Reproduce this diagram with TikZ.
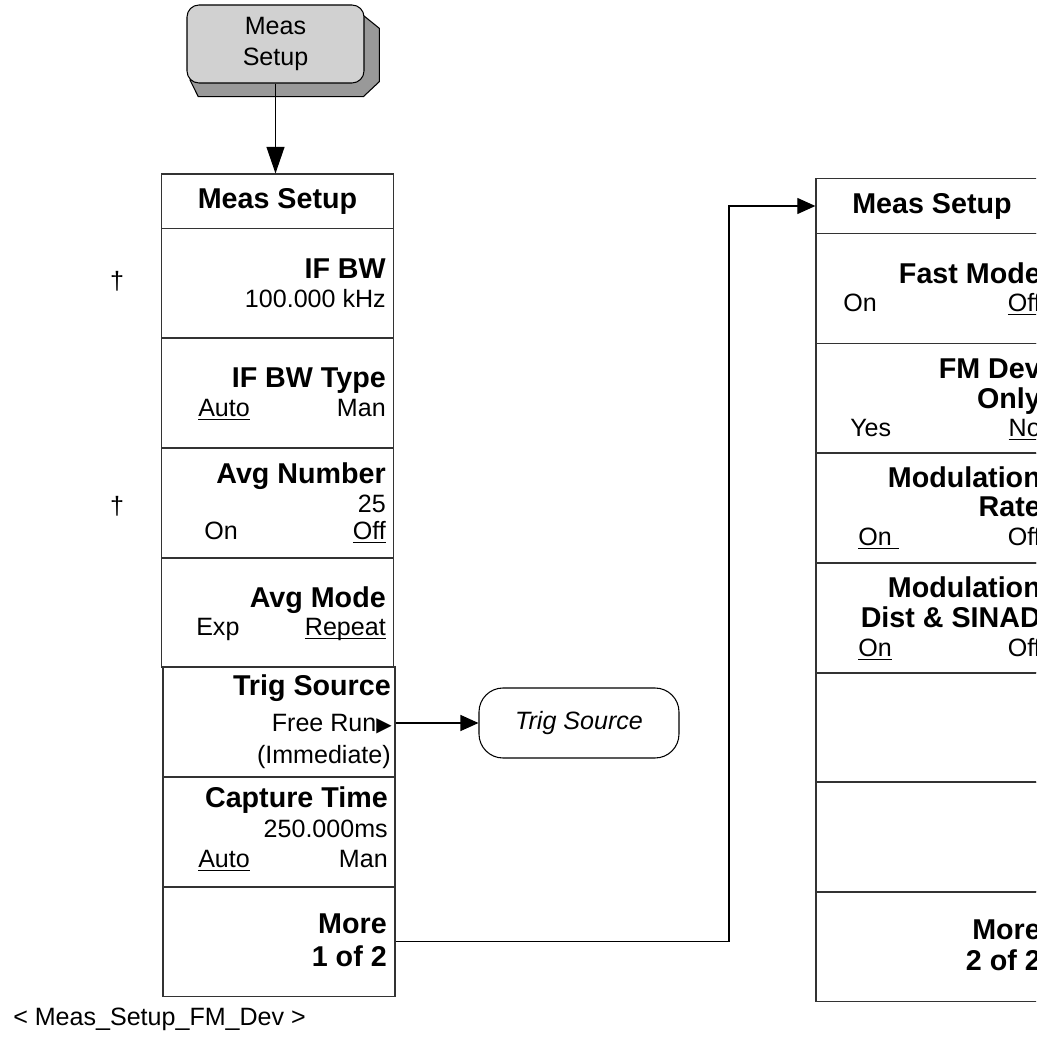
\documentclass[tikz,border=0pt]{standalone}
\usepackage{fontspec}
\setmainfont{Liberation Sans}
\newfontfamily\symfont{DejaVu Sans}
\usetikzlibrary{arrows.meta}

\newcommand{\ulopt}[1]{\setbox0=\hbox{#1}\rlap{\rule[-3pt]{\wd0}{1.1pt}}\box0}

\tikzset{
  menurow/.style={draw=black!80, line width=1pt, minimum width=174pt, minimum height=82.5pt, inner sep=0pt},
  menuhead/.style={menurow, minimum height=41pt, font=\fontsize{21.5}{24}\selectfont\bfseries},
  keyname/.style={inner sep=0pt, font=\fontsize{21.5}{24}\selectfont\bfseries},
  keyval/.style={inner sep=0pt, font=\fontsize{18.8}{22}\selectfont},
  hardkey/.style={draw, line width=0.8pt, fill=black!18, rounded corners=9pt, minimum width=132.75pt, minimum height=58.5pt, align=center, inner sep=0pt, font=\fontsize{18.8}{23.25}\selectfont},
  menulink/.style={draw, line width=0.9pt, -{Triangle[length=13.5pt,width=12pt]}},
}

\begin{document}
\begin{tikzpicture}[x=0.75pt, y=-0.75pt]
\useasboundingbox (0,0) rectangle (1036,1041);
\clip (0,0) rectangle (1036,1041);

% front panel key
\filldraw[fill=black!40, line width=0.8pt] (360.7,13.3) -- (379.3,28.3) -- (379.3,81.7) -- (363.3,96.7) -- (198.3,96.7) -- (190,80) -- cycle;
\node[hardkey] (key) at (275.5,44) {Meas\\Setup};

% menu page 1
\node[menuhead] (lhead) at (277.5,201.5) {Meas Setup};
\node[menurow] (ifbw) at (277.5,283.5) {};
\node[menurow] (ifbwtype) at (277.5,393) {};
\node[menurow] (avgnum) at (277.5,503) {};
\node[menurow] (avgmode) at (277.5,612.5) {};
\node[menurow] (trig) at (279,722) {};
\node[menurow] (capt) at (279,832) {};
\node[menurow] (more1) at (279,941.5) {};

\node[keyname, anchor=base east] at (386,278) {IF BW};
\node[keyval, anchor=base east] at (386,307) {100.000 kHz};
\node[keyname, anchor=base east] at (386,387) {IF BW Type};
\node[keyval, anchor=base west] at (198,416) {\ulopt{Auto}};
\node[keyval, anchor=base east] at (386,416) {Man};
\node[keyname, anchor=base east] at (386,483) {Avg Number};
\node[keyval, anchor=base east] at (386,512) {25};
\node[keyval, anchor=base west] at (204,539) {On};
\node[keyval, anchor=base east] at (386,539) {\ulopt{Off}};
\node[keyname, anchor=base east] at (386,607) {Avg Mode};
\node[keyval, anchor=base west] at (196,635) {Exp};
\node[keyval, anchor=base east] at (386,635) {\ulopt{Repeat}};
\node[keyname, anchor=base east] at (391,695) {Trig Source};
\node[keyval, anchor=base east] at (392,731) {Free Run{\symfont\fontsize{15}{15}\selectfont ▶}};
\node[keyval, anchor=base east] at (391,763) {(Immediate)};
\node[keyname, anchor=base east] at (388,807) {Capture Time};
\node[keyval, anchor=base east] at (388,837) {250.000ms};
\node[keyval, anchor=base west] at (198,867) {\ulopt{Auto}};
\node[keyval, anchor=base east] at (388,867) {Man};
\node[keyname, anchor=base east] at (387,933) {More};
\node[keyname, anchor=base east] at (387,966) {1 of 2};

\node[keyval, anchor=base] at (117,289) {†};
\node[keyval, anchor=base] at (117,514) {†};

% trigger source menu
\node[keyval, draw, line width=0.8pt, rounded corners=18pt, minimum width=150pt, minimum height=52.5pt, font=\fontsize{18.8}{22}\selectfont\itshape] (trigbox) at (579,723) {Trig Source};

% menu page 2
\node[menuhead] (rhead) at (932,206) {Meas Setup};
\node[menurow] (fast) at (932,288.5) {};
\node[menurow] (fmdev) at (932,398.5) {};
\node[menurow] (modrate) at (932,508) {};
\node[menurow] (moddist) at (932,618) {};
\node[menurow] (blank1) at (932,727.5) {};
\node[menurow] (blank2) at (932,837) {};
\node[menurow] (more2) at (932,946.5) {};

\node[keyname, anchor=base east] at (1041,283) {Fast Mode};
\node[keyval, anchor=base west] at (843,311) {On};
\node[keyval, anchor=base east] at (1041,311) {\ulopt{Off}};
\node[keyname, anchor=base east] at (1041,378) {FM Dev};
\node[keyname, anchor=base east] at (1041,408) {Only};
\node[keyval, anchor=base west] at (850,436) {Yes};
\node[keyval, anchor=base east] at (1041,436) {\ulopt{No}};
\node[keyname, anchor=base east] at (1041,487) {Modulation};
\node[keyname, anchor=base east] at (1041,516) {Rate};
\node[keyval, anchor=base west] at (858,545) {\ulopt{On\ }};
\node[keyval, anchor=base east] at (1041,545) {Off};
\node[keyname, anchor=base east] at (1041,597) {Modulation};
\node[keyname, anchor=base east] at (1041,627) {Dist \& SINAD};
\node[keyval, anchor=base west] at (858,656) {\ulopt{On}};
\node[keyval, anchor=base east] at (1041,656) {Off};
\node[keyname, anchor=base east] at (1041,939) {More};
\node[keyname, anchor=base east] at (1041,970) {2 of 2};

\node[keyval, anchor=base west] at (13,1025) {< Meas\_Setup\_FM\_Dev >};

% links
\draw[menulink, -{Triangle[length=20pt,width=13.5pt]}] (key.south) -- (key.south |- lhead.north);
\draw[menulink] (trig.east |- trigbox.west) -- (trigbox.west);
\coordinate (jog) at (729,941);
\draw[menulink] (more1.east) -- (more1.east -| jog) |- (rhead.west);
\end{tikzpicture}
\end{document}
